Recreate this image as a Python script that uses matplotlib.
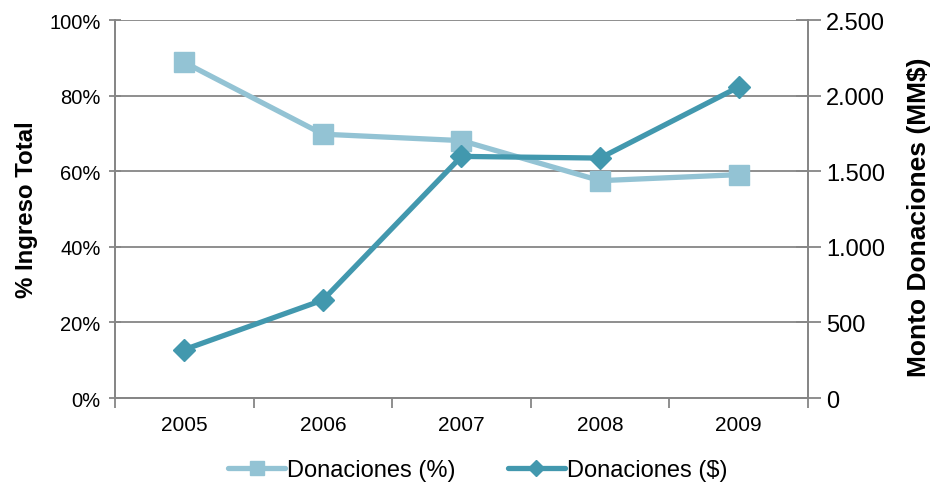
import numpy as np
import matplotlib.pyplot as plt
from matplotlib.ticker import FuncFormatter, FixedLocator

plt.rcParams['font.family'] = ['Liberation Sans', 'DejaVu Sans']

# data
years = ['2005', '2006', '2007', '2008', '2009']
pct_ingreso = [88.8, 69.8, 68.1, 57.5, 59.1]      # Donaciones (%)
monto = [320, 648, 1598, 1587, 2057]              # Donaciones ($), MM$

light = '#93C3D4'
dark = '#4298AE'
grey = '#868686'

fig = plt.figure(figsize=(9.37, 4.89), dpi=100)
ax1 = fig.add_axes([0.1227, 0.184, 0.7396, 0.773])
ax2 = ax1.twinx()

x = np.arange(len(years))
ax1.plot(x, pct_ingreso, color=light, lw=3.8, marker='s', ms=14,
         label='Donaciones (%)', solid_capstyle='round')
ax2.plot(x, monto, color=dark, lw=3.8, marker='D', ms=11,
         label='Donaciones ($)', solid_capstyle='round')

ax1.set_xlim(-0.5, 4.5)
ax1.set_ylim(0, 100)
ax2.set_ylim(0, 2500)
ax1.set_yticks(np.arange(0, 101, 20))
ax2.set_yticks(np.arange(0, 2501, 500))
ax1.yaxis.set_major_formatter(FuncFormatter(lambda v, p: '%d%%' % v))
ax2.yaxis.set_major_formatter(FuncFormatter(lambda v, p: '{:,}'.format(int(v)).replace(',', '.')))

ax1.grid(axis='y', color=grey, lw=1.3)
ax1.set_axisbelow(True)

# category labels in the middle, ticks on the boundaries
ax1.set_xticks(x)
ax1.set_xticklabels(years, fontsize=15)
ax1.xaxis.set_minor_locator(FixedLocator(np.arange(-0.5, 5, 1)))
ax1.tick_params(axis='x', which='major', length=0, pad=12)
ax1.tick_params(axis='x', which='minor', length=7, width=1.3, color=grey, direction='out')
ax1.tick_params(axis='y', length=9, width=1.3, color=grey, direction='inout', labelsize=14.5, pad=6)
ax2.tick_params(axis='y', length=18, width=1.3, color=grey, direction='inout', labelsize=17, pad=4)

for ax in (ax1, ax2):
    for s in ax.spines.values():
        s.set_color(grey)
        s.set_linewidth(1.3)
    ax.spines['top'].set_visible(False)

ax1.set_ylabel('% Ingreso Total', fontsize=17.3, fontweight='bold', labelpad=8)
ax2.set_ylabel('Monto Donaciones (MM$)', fontsize=19, fontweight='bold')
ax2.yaxis.set_label_coords(1.143, 0.48)

h1, l1 = ax1.get_legend_handles_labels()
h2, l2 = ax2.get_legend_handles_labels()
fig.legend(h1 + h2, l1 + l2, loc='lower center', bbox_to_anchor=(0.51, -0.03), ncol=2,
           frameon=False, fontsize=17, handlelength=2.4, columnspacing=2.2,
           handletextpad=0.1, markerscale=0.7)

plt.savefig('out.png', dpi=100)
